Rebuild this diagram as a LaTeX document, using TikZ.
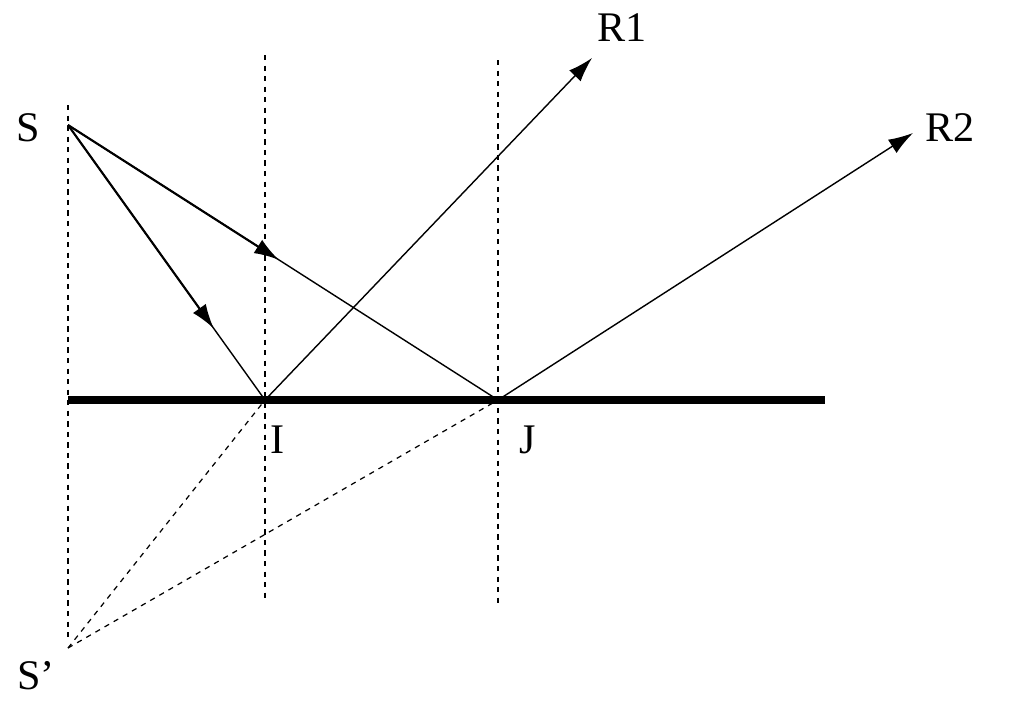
\documentclass[tikz,border=0pt]{standalone}
\usepackage{fontspec}
\setmainfont{Liberation Serif}
\usetikzlibrary{calc,arrows.meta}
\begin{document}
\begin{tikzpicture}
    [x=0.02cm, y=-0.02cm,
    ray/.style={line width=0.8pt},
    guide/.style={line width=0.7pt, dashed},
    arrowray/.style={line width=1.2pt, -{Latex[length=14pt,width=9pt]}},
    every node/.style={font=\fontsize{24}{28}\selectfont}
    ]
    \useasboundingbox (0,0) rectangle (1024,707);
    % points
    \coordinate (S) at (68,125);
    \coordinate (I) at (265,400);
    \coordinate (J) at (498,400);
    \coordinate (Sp) at (68,648);
    \coordinate (R1) at (592,58);
    \coordinate (R2) at (913,133);
    % normals
    \draw[guide] (68,105) -- (68,640);
    \draw[guide] (265,55) -- (265,600);
    \draw[guide] (498,60) -- (498,605);
    % mirror
    \draw[line width=4pt] (68,400) -- (825,400);
    % rays
    \draw[ray] (S) -- (I);
    \draw[ray] (S) -- (J);
    \draw[arrowray] (S) -- ($(S)!0.74!(I)$);
    \draw[arrowray] (S) -- ($(S)!0.49!(J)$);
    \draw[ray, -{Latex[length=14pt,width=9pt]}] (I) -- (R1);
    \draw[ray, -{Latex[length=14pt,width=9pt]}] (J) -- (R2);
    % virtual rays
    \draw[guide] (Sp) -- (I);
    \draw[guide] (Sp) -- (J);
    % labels
    \node (lS) at (28,128) {S};
    \node (lSp) at (36,676) {S’};
    \node (lI) at (278,440) {I};
    \node (lJ) at (528,440) {J};
    \node (lR1) at (622,28) {R1};
    \node (lR2) at (950,128) {R2};
\end{tikzpicture}
\end{document}
